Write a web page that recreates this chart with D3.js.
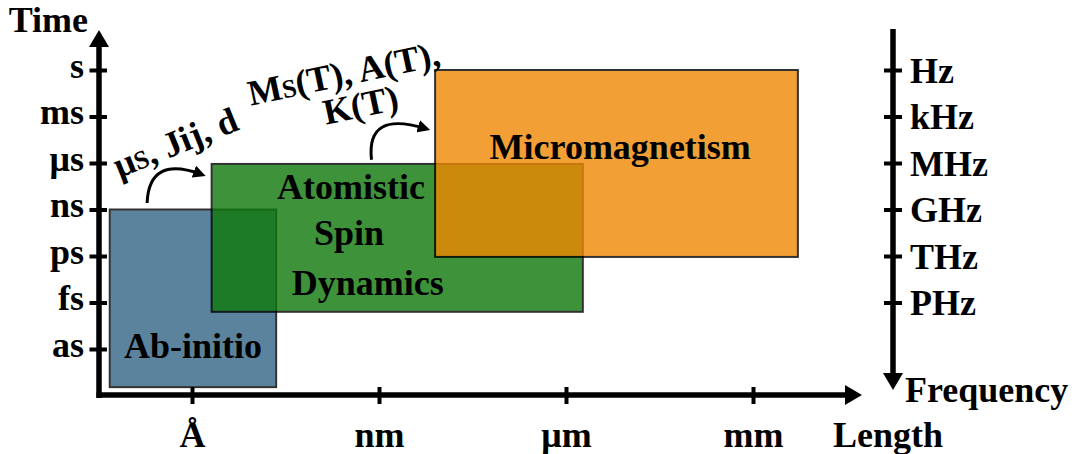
<!DOCTYPE html>
<html>
<head>
<meta charset="utf-8">
<script src="https://cdn.jsdelivr.net/npm/d3@7"></script>
</head>
<body style="margin:0; background:#fff">
<svg id="chart" width="1079" height="454"></svg>
<script>
// Length scale: one tick per unit, equally spaced
const lengthTicks = ["Å", "nm", "μm", "mm"];
// Time scale (left axis), bottom to top
const timeTicks = ["as", "fs", "ps", "ns", "μs", "ms", "s"];
// Frequency scale (right axis), paired with fs … s
const freqTicks = ["PHz", "THz", "GHz", "MHz", "kHz", "Hz"];
const freqIndex = [1, 2, 3, 4, 5, 6];

// Simulation methods and the ranges they cover (tick index units)
const methods = ["Ab-initio", "Atomistic Spin Dynamics", "Micromagnetism"];
const lengthFrom = [-0.44, 0.105, 1.3];
const lengthTo = [0.45, 2.09, 3.24];
const timeFrom = [-0.82, 0.8, 1.98];
const timeTo = [3, 3.98, 6];
const methodColors = ["rgb(51,101,134)", "rgb(14,121,9)", "rgb(240,136,3)"];

// Label lines inside each box, with their anchor points (tick index units)
const boxLabels = [
  { text: "Ab-initio", x: 0.005, t: -0.2 },
  { text: "Atomistic", x: 0.85, t: 3.22 },
  { text: "Spin", x: 0.84, t: 2.23 },
  { text: "Dynamics", x: 0.94, t: 1.16 },
  { text: "Micromagnetism", x: 2.29, t: 4.08 }
];

// Parameters handed from one scale to the next, with their arrows
const paramLabels = [
  { parts: [["μ", 1], ["S", 0.72], [", Jij, d", 1]], x: -0.065, t: 4.2, angle: -22 },
  { parts: [["M", 1], ["S", 0.72], ["(T), A(T),", 1]], x: 0.825, t: 5.67, angle: -12 },
  { parts: [["K(T)", 1]], x: 0.915, t: 4.99, angle: -12 }
];
const arrowFrom = [[-0.24, 3.14], [0.96, 4.07]];
const arrowVia = [[-0.155, 3.81], [1.025, 4.77]];
const arrowTo = [[0.08, 3.76], [1.28, 4.74]];

const FONT = "Liberation Serif";
const fontSize = 36;

const svg = d3.select("#chart");

function label(sel, size) {
  return sel.attr("font-family", FONT)
    .attr("font-weight", "bold")
    .attr("font-size", size || fontSize)
    .attr("fill", "#000");
}

const x = d3.scaleLinear().domain([0, 3]).range([192, 753]);
const y = d3.scaleLinear().domain([0, 6]).range([349, 70]);

// Axis geometry
const axisX = 99, axisY = 395, rightX = 893;
const axisW = 5.5;

// ----- boxes -----
const boxes = svg.append("g");
methods.forEach((m, i) => {
  boxes.append("rect")
    .attr("x", x(lengthFrom[i]))
    .attr("y", y(timeTo[i]))
    .attr("width", x(lengthTo[i]) - x(lengthFrom[i]))
    .attr("height", y(timeFrom[i]) - y(timeTo[i]))
    .attr("fill", methodColors[i])
    .attr("stroke", "#000")
    .attr("stroke-width", 2)
    .attr("opacity", 0.8);
});

// ----- box labels -----
boxLabels.forEach(d => {
  label(svg.append("text"))
    .attr("x", x(d.x)).attr("y", y(d.t))
    .attr("text-anchor", "middle")
    .text(d.text);
});

// ----- parameter labels -----
paramLabels.forEach(d => {
  const t = label(svg.append("text"))
    .attr("transform", `translate(${x(d.x)},${y(d.t)}) rotate(${d.angle})`)
    .attr("text-anchor", "middle");
  d.parts.forEach(p => t.append("tspan").attr("font-size", fontSize * p[1]).text(p[0]));
});

// ----- curved arrows -----
const defs = svg.append("defs");
defs.append("marker")
  .attr("id", "head")
  .attr("viewBox", "0 0 10 10")
  .attr("refX", 6).attr("refY", 5)
  .attr("markerWidth", 4.2).attr("markerHeight", 4.2)
  .attr("orient", "auto")
  .attr("markerUnits", "strokeWidth")
  .append("path").attr("d", "M0,0 L10,5 L0,10 Z").attr("fill", "#000");

arrowFrom.forEach((a, i) => {
  const p0 = [x(a[0]), y(a[1])];
  const p1 = [x(arrowTo[i][0]), y(arrowTo[i][1])];
  const pm = [x(arrowVia[i][0]), y(arrowVia[i][1])];
  // control point so the curve passes through the midpoint
  const c = [2 * pm[0] - (p0[0] + p1[0]) / 2, 2 * pm[1] - (p0[1] + p1[1]) / 2];
  const path = d3.path();
  path.moveTo(p0[0], p0[1]);
  path.quadraticCurveTo(c[0], c[1], p1[0] - 6, p1[1]);
  svg.append("path")
    .attr("d", path.toString())
    .attr("fill", "none")
    .attr("stroke", "#000")
    .attr("stroke-width", 3)
    .attr("marker-end", "url(#head)");
});

// ----- axes -----
const arrowHalf = 10, arrowLen = 17;

// left (time) axis
const leftAxis = d3.axisLeft(y)
  .tickValues(d3.range(timeTicks.length))
  .tickFormat(i => timeTicks[i])
  .tickSizeInner(9).tickSizeOuter(0);
const gl = svg.append("g").attr("transform", `translate(${axisX},0)`).call(leftAxis);
gl.select(".domain").remove();
label(gl);
gl.selectAll(".tick line").attr("x1", -9.5).attr("x2", 8).attr("stroke", "#000").attr("stroke-width", 4);
gl.selectAll(".tick text").attr("x", -15).attr("dy", "0.2em").attr("fill", "#000");
gl.append("line").attr("x1", 0).attr("x2", 0).attr("y1", axisY + 3).attr("y2", 30 + arrowLen - 1)
  .attr("stroke", "#000").attr("stroke-width", axisW);
gl.append("path").attr("d", `M${-arrowHalf},${30 + arrowLen} L0,30 L${arrowHalf},${30 + arrowLen} Z`).attr("fill", "#000");

label(svg.append("text")).attr("x", 88).attr("y", 32).attr("text-anchor", "end").text("Time");

// bottom (length) axis
const bottomAxis = d3.axisBottom(x)
  .tickValues(d3.range(lengthTicks.length))
  .tickFormat(i => lengthTicks[i])
  .tickSizeInner(9).tickSizeOuter(0);
const gb = svg.append("g").attr("transform", `translate(0,${axisY})`).call(bottomAxis);
gb.select(".domain").remove();
label(gb);
gb.selectAll(".tick line").attr("y1", -8).attr("y2", 9).attr("stroke", "#000").attr("stroke-width", 4);
gb.selectAll(".tick text").attr("y", 52).attr("dy", 0).attr("fill", "#000");
gb.append("line").attr("x1", axisX - 2.5).attr("x2", 862 - arrowLen + 1).attr("y1", 0).attr("y2", 0)
  .attr("stroke", "#000").attr("stroke-width", axisW);
gb.append("path").attr("d", `M${862 - arrowLen},${-arrowHalf} L862,0 L${862 - arrowLen},${arrowHalf} Z`).attr("fill", "#000");

label(svg.append("text")).attr("x", 833).attr("y", 447).text("Length");

// right (frequency) axis, pointing down
const rightAxis = d3.axisRight(y)
  .tickValues(freqIndex)
  .tickFormat((v, i) => freqTicks[i])
  .tickSizeInner(9).tickSizeOuter(0);
const gr = svg.append("g").attr("transform", `translate(${rightX},0)`).call(rightAxis);
gr.select(".domain").remove();
label(gr);
gr.selectAll(".tick line").attr("x1", -9).attr("x2", 9).attr("stroke", "#000").attr("stroke-width", 4);
gr.selectAll(".tick text").attr("x", 17).attr("dy", "0.34em").attr("fill", "#000");
gr.append("line").attr("x1", 0).attr("x2", 0).attr("y1", 29).attr("y2", 390 - arrowLen + 1)
  .attr("stroke", "#000").attr("stroke-width", axisW);
gr.append("path").attr("d", `M${-arrowHalf},${390 - arrowLen} L0,390 L${arrowHalf},${390 - arrowLen} Z`).attr("fill", "#000");

label(svg.append("text")).attr("x", 905).attr("y", 402).text("Frequency");
</script>
</body>
</html>
